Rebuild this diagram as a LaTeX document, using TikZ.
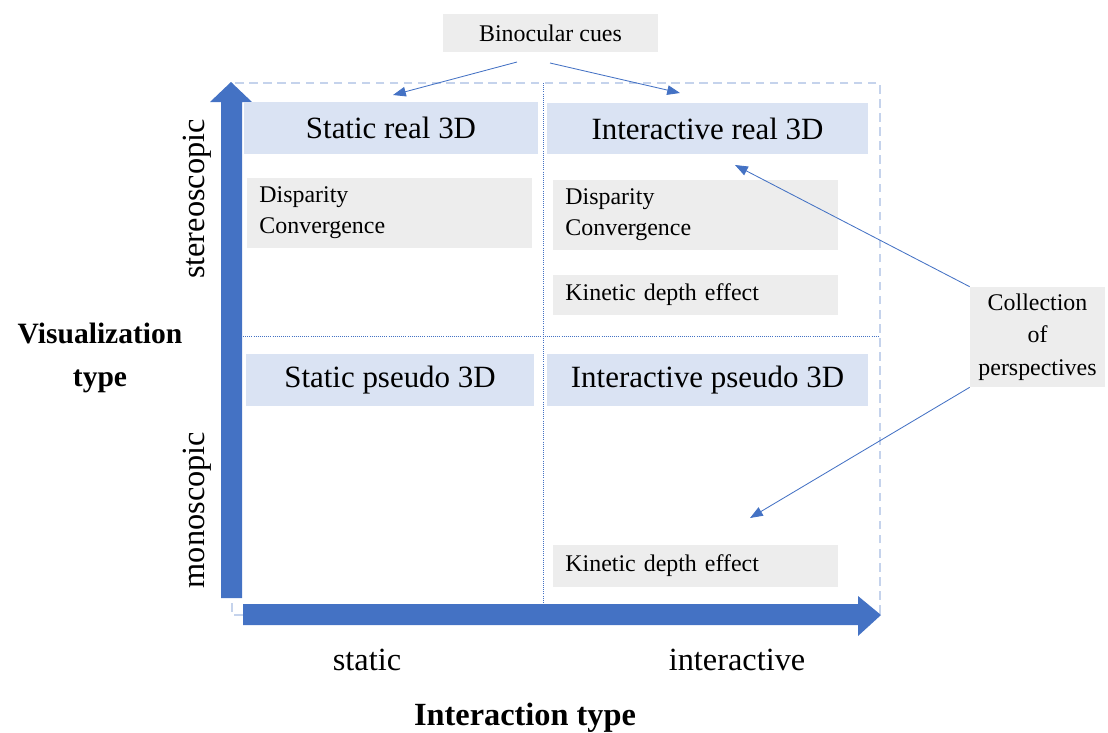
\documentclass[tikz,border=0pt]{standalone}
\usepackage{fontspec}
\setmainfont{Liberation Serif}
\usetikzlibrary{arrows.meta}
\definecolor{axisblue}{HTML}{4472C4}
\definecolor{headblue}{HTML}{DAE3F3}
\definecolor{framblue}{HTML}{C5D3EC}
\definecolor{cuegray}{HTML}{EDEDED}
\begin{document}
\begin{tikzpicture}[x=0.025cm,y=-0.025cm,
    title/.style={fill=headblue, minimum height=1.28cm, inner sep=0pt, font=\fontsize{22}{26}\selectfont},
    cue/.style={fill=cuegray, text width=6.5cm, inner xsep=0.31cm, inner ysep=0pt, align=left, font=\fontsize{17}{22}\selectfont},
    note/.style={fill=cuegray, inner sep=0pt, align=center, font=\fontsize{17}{23}\selectfont},
    axislabel/.style={font=\fontsize{23}{27}\selectfont},
    heading/.style={font=\bfseries\fontsize{21}{31}\selectfont, align=center},
    link/.style={draw=axisblue, line width=0.6pt, -{Triangle[length=3.2mm, width=2.4mm]}}]

    \useasboundingbox (0,0) rectangle (1108,732);

    % frame and quadrants
    \draw[framblue, line width=0.8pt, dash pattern=on 6pt off 4pt] (232,83) rectangle (880,615);
    \draw[axisblue, densely dotted, line width=0.5pt] (543,83) -- (543,605);
    \draw[axisblue, densely dotted, line width=0.5pt] (243,336) -- (880,336);

    % axes
    \fill[axisblue] (221,598) -- (221,102) -- (210,102) -- (231,82) -- (252,102) -- (242,102) -- (242,598) -- cycle;
    \fill[axisblue] (243,604) -- (858,604) -- (858,596) -- (881,615) -- (858,636) -- (858,625) -- (243,625) -- cycle;

    % quadrant titles
    \node[title, minimum width=7.35cm] (sreal) at (391,128) {Static real 3D};
    \node[title, minimum width=8.025cm] (ireal) at (707.5,128.5) {Interactive real 3D};
    \node[title, minimum width=7.2cm] (spseudo) at (390,380) {Static pseudo 3D};
    \node[title, minimum width=8.025cm] (ipseudo) at (707.5,380) {Interactive pseudo 3D};

    % cues
    \node[cue, minimum height=1.75cm] (sdisp) at (389.5,213) {Disparity\\Convergence};
    \node[cue, minimum height=1.75cm] (idisp) at (695.5,215) {Disparity\\Convergence};
    \node[cue, minimum height=1cm] (ikin) at (695.5,295) {Kinetic depth effect};
    \node[cue, minimum height=1.05cm] (pkin) at (695.5,566) {Kinetic depth effect};

    % callouts
    \node[note, minimum width=5.375cm, minimum height=0.95cm] (bino) at (550.5,33) {Binocular cues};
    \node[note, minimum width=3.375cm, minimum height=2.5cm] (coll) at (1037.5,337) {Collection\\of\\perspectives};

    \coordinate (binoL) at (517,62);
    \coordinate (binoR) at (550,63);
    \coordinate (sIn) at (393,95);
    \coordinate (iIn) at (680,93);
    \coordinate (realIn) at (735,165);
    \coordinate (pseudoIn) at (750,518);
    \draw[link] (binoL) -- (sIn);
    \draw[link] (binoR) -- (iIn);
    \draw[link] (coll.north west) -- (realIn);
    \draw[link] (coll.south west) -- (pseudoIn);

    % axis labels
    \node[axislabel, rotate=90] (stereo) at (197,199) {stereoscopic};
    \node[axislabel, rotate=90] (mono) at (197,510) {monoscopic};
    \node[axislabel] (static) at (367,660) {static};
    \node[axislabel] (inter) at (737,660) {interactive};
    \node[heading] (vistype) at (100,358) {Visualization\\type};
    \node[heading, font=\bfseries\fontsize{23}{27}\selectfont] (inttype) at (525,718) {Interaction type};
    %
\end{tikzpicture}
\end{document}
